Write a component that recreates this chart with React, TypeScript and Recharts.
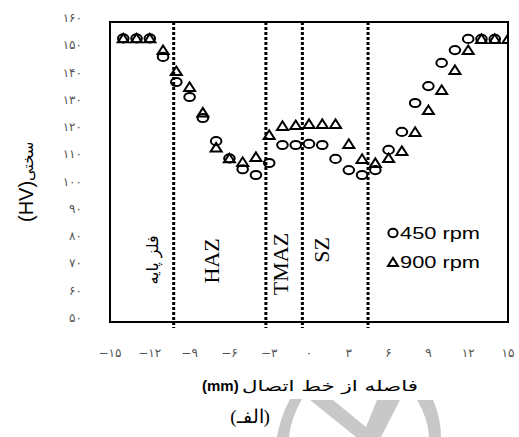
import { ReferenceArea, ReferenceLine, Scatter, ScatterChart, XAxis, YAxis } from "recharts";

const distance450 = [-14, -13, -12, -11, -10, -9, -8, -7, -6, -5, -4, -3, -2, -1, 0, 1, 2, 3, 4, 5, 6, 7, 8, 9, 10, 11, 12, 13, 14];
const hardness450 = [154, 154, 154, 147.2, 138, 132.5, 124.8, 116.3, 110, 106, 103.9, 108.3, 114.9, 114.9, 115.3, 114.9, 109.8, 105.7, 103.9, 105.7, 113.1, 119.7, 130.3, 136.5, 145, 149.7, 153.8, 153.8, 153.8];

const distance900 = [-14, -13, -12, -11, -10, -9, -8, -7, -6, -5, -4, -3, -2, -1, 0, 1, 2, 3, 4, 5, 6, 7, 8, 9, 10, 11, 12, 13, 14, 15];
const hardness900 = [154, 154, 154, 149.7, 142, 136.2, 126.8, 114, 110, 108.7, 110.5, 118.6, 121.9, 122.2, 122.6, 122.6, 122.6, 115.3, 109.8, 108.3, 110.1, 112.7, 119.7, 127.7, 135.1, 142.4, 149.7, 153.8, 153.8, 153.8];

const xTicks = [-15, -12, -9, -6, -3, 0, 3, 6, 9, 12, 15];
const yTicks = [50, 60, 70, 80, 90, 100, 110, 120, 130, 140, 150, 160];
const zoneBounds = [-10.2, -3.25, -0.5, 4.45];

const rows450 = distance450.map((x, i) => ({ x, y: hardness450[i] }));
const rows900 = distance900.map((x, i) => ({ x, y: hardness900[i] }));

const faDigits = "۰۱۲۳۴۵۶۷۸۹";
const toFa = (n: number) => (n < 0 ? "−" : "") + String(Math.abs(n)).replace(/\d/g, (d) => faDigits[Number(d)]);

function CircleMark({ cx, cy }: any) {
  return <ellipse cx={cx} cy={cy} rx={5.3} ry={4.1} fill="none" stroke="#000" strokeWidth={2} />;
}

function TriangleMark({ cx, cy }: any) {
  return <polygon points={`${cx - 5.5},${cy + 4} ${cx + 5.5},${cy + 4} ${cx},${cy - 4.6}`} fill="none" stroke="#000" strokeWidth={2} />;
}

function XTick({ x, y, payload }: any) {
  return <text x={x} y={y + 31} textAnchor="middle" dominantBaseline="central" fontFamily="DejaVu Sans" fontSize={12} fill="#555" letterSpacing={2}>{toFa(payload.value)}</text>;
}

function YTick({ x, y, payload }: any) {
  return <text x={x - 28} y={y - 4} textAnchor="end" dominantBaseline="central" fontFamily="DejaVu Sans" fontSize={12} fill="#555" letterSpacing={2.5}>{toFa(payload.value)}</text>;
}

function DottedLine(props: any) {
  const bottom = Math.max(props.y1, props.y2) + 6;
  const top = Math.min(props.y1, props.y2);
  return <line x1={props.x1} x2={props.x2} y1={top} y2={bottom} stroke="#000" strokeWidth={3} strokeDasharray="3 2" />;
}

const serifLabel = { fontFamily: "Liberation Serif", fontSize: 22, fill: "#000" };

export default function App() {
  return (
    <div style={{ position: "absolute", left: 0, top: 0, width: 519, height: 437, background: "#fff" }}>
      <ScatterChart width={519} height={437} margin={{ top: 22, right: 11, bottom: 85, left: 30 }}>
        <XAxis type="number" dataKey="x" domain={[-15, 15]} ticks={xTicks} axisLine={false} tickLine={false} tickSize={0} tickMargin={0} height={30} tick={<XTick />} allowDataOverflow />
        <YAxis type="number" dataKey="y" domain={[50, 160]} ticks={yTicks} axisLine={false} tickLine={false} tickSize={0} tickMargin={0} width={80} tick={<YTick />} allowDataOverflow />
        {zoneBounds.map((b) => (
          <ReferenceLine key={b} x={b} ifOverflow="visible" shape={DottedLine} />
        ))}
        <Scatter data={rows450} shape={CircleMark} isAnimationActive={false} />
        <Scatter data={rows900} shape={TriangleMark} isAnimationActive={false} />
        <ReferenceArea x1={-15} x2={15} y1={50} y2={160} fill="none" fillOpacity={0} stroke="#000" strokeWidth={2} ifOverflow="visible" />
      </ScatterChart>
      <svg width={519} height={437} style={{ position: "absolute", left: 0, top: 0, pointerEvents: "none" }}>
        <g fill="#c8c8c8">
          <path d="M290 399 Q280 418 277 437 L289 437 Q291 418 302 399 Z" />
          <polygon points="310,400 333,400 378,437 356,437" />
          <polygon points="377,400 400,400 381,437 362,437" />
          <path d="M417 400 Q428 418 429 437 L441 437 Q441 418 433 400 Z" />
        </g>
        <text transform="translate(158,260) rotate(-90)" textAnchor="middle" fontFamily="DejaVu Sans" fontSize={16} fill="#000">فلز پایه</text>
        <text transform="translate(219,261) rotate(-90)" textAnchor="middle" {...serifLabel}>HAZ</text>
        <text transform="translate(288,264) rotate(-90)" textAnchor="middle" {...serifLabel}>TMAZ</text>
        <text transform="translate(329,250) rotate(-90)" textAnchor="middle" {...serifLabel}>SZ</text>

        <ellipse cx={393} cy={233} rx={4.6} ry={4.2} fill="none" stroke="#000" strokeWidth={2} />
        <text x={400} y={239} fontFamily="Liberation Sans" fontSize={17} textLength={80} lengthAdjust="spacingAndGlyphs">450 rpm</text>
        <polygon points="388,266 398,266 393,258" fill="none" stroke="#000" strokeWidth={2} />
        <text x={400} y={268} fontFamily="Liberation Sans" fontSize={17} textLength={80} lengthAdjust="spacingAndGlyphs">900 rpm</text>

        <text transform="translate(33,222) rotate(-90)" textAnchor="start" fontFamily="Liberation Sans" fill="#000">
          <tspan fontSize={20}>(HV)</tspan>
          <tspan fontFamily="DejaVu Sans" fontSize={15}>سختی</tspan>
        </text>

        <text x={202} y={391} fontFamily="Liberation Sans" fontWeight="bold" fontSize={15}>(mm)</text>
        <text x={418} y={391} textAnchor="end" fontFamily="DejaVu Sans" fontSize={15} textLength={176} lengthAdjust="spacingAndGlyphs">فاصله از خط اتصال</text>
        <text x={250} y={423} textAnchor="middle" fontFamily="Liberation Serif" fontSize={19}>(الفـ)</text>
      </svg>
    </div>
  );
}
